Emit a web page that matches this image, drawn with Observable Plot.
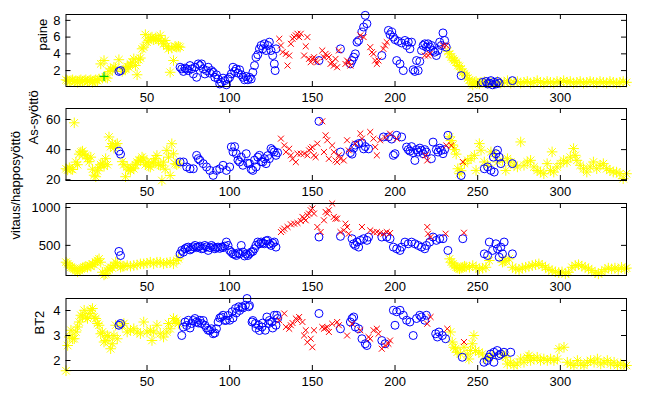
<!DOCTYPE html>
<html><head><meta charset="utf-8">
<script src="https://cdn.jsdelivr.net/npm/d3@7"></script>
<script src="https://cdn.jsdelivr.net/npm/@observablehq/plot@0.6"></script>
<style>
html,body{margin:0;padding:0;background:#fff;}
#chart{position:relative;width:666px;height:399px;overflow:hidden;background:#fff;}
#chart svg{position:absolute;left:0;}
</style></head><body><div id="chart"></div>
<script>
// ---------- labels & ticks ----------
const panelLabels = ["paine", "As-syöttö", "vitaus/happosyöttö", "BT2"];
const xTicks = [50, 100, 150, 200, 250, 300];
const paineTicks = [2, 4, 6, 8];
const asTicks = [20, 40, 60];
const vitausTicks = [500, 1000];
const bt2Ticks = [2, 3, 4];
const paineDomain = [0.1, 8.7];
const asDomain = [19.5, 67.3];
const vitausDomain = [102, 1053];
const bt2Domain = [1.6, 4.48];

// ---------- paine ----------
const paineYellow = [[1,0.9],[2,0.8],[3,0.7],[4,0.8],[5,0.9],[6,0.7],[7,0.8],[8,0.6],[9,0.8],[10,0.9],[11,0.7],[12,0.8],[13,0.9],[14,0.7],[15,0.8],[16,0.9],[17,0.6],[18,0.8],[19,0.9],[20,0.8],[21,1.0],[22,2.8],[23,1.1],[24,3.2],[25,1.2],[26,1.1],[27,1.9],[28,2.2],[29,2.0],[30,2.4],[31,2.3],[33,3.3],[35,1.9],[36,2.1],[37,2.2],[38,2.5],[39,2.4],[40,2.8],[41,3.0],[42,3.4],[43,2.6],[44,1.5],[45,3.3],[46,3.5],[47,4.6],[48,4.8],[49,6.3],[50,5.4],[51,5.6],[52,5.9],[53,6.0],[54,5.7],[55,5.9],[56,5.8],[57,5.6],[58,6.2],[59,5.5],[60,5.2],[61,5.6],[62,4.9],[63,4.6],[64,1.8],[65,4.7],[66,3.2],[67,4.9],[68,4.8],[69,4.9],[70,4.8],
[232,4.3],[233,4.0],[234,3.6],[235,3.4],[236,3.2],[237,3.0],[238,2.6],[239,2.5],[240,2.2],[241,1.8],[242,1.6],[243,1.4],[244,1.1],[245,0.9],[246,0.5],[247,0.3],[248,0.6],[249,0.7],[250,0.5],[251,0.4],[252,0.6],[254,0.7],[256,0.5],[258,0.6],[260,0.4],[262,0.7],[264,0.5],[266,0.6],[268,0.8],[270,0.5],[272,0.6],[274,0.7],[276,0.5],[278,0.6],[280,0.7],[282,0.5],[284,0.6],[286,0.8],[288,0.6],[290,0.5],[292,0.7],[294,0.6],[296,0.5],[298,0.7],[300,0.6],[302,0.8],[304,0.6],[306,0.7],[308,0.5],[310,0.6],[312,0.7],[314,0.5],[316,0.6],[318,0.7],[320,0.6],[322,0.5],[324,0.7],[326,0.6],[328,0.5],[330,0.7],[332,0.6],[334,0.5],[336,0.6],[338,0.7],[340,0.6]];
const paineBlue = [[33,1.9],[34,2.0],
[70,2.4],[71,2.2],[72,1.9],[73,2.3],[74,2.2],[75,2.0],[76,2.6],[77,2.2],[78,1.6],[79,2.4],[80,1.2],[81,2.8],[82,2.6],[83,2.8],[84,2.2],[85,1.6],[86,2.0],[87,2.4],[88,1.7],[89,2.0],[90,1.8],[91,1.2],[92,1.5],[93,1.0],[94,0.4],[95,0.6],[96,1.1],[97,0.8],[98,0.3],[99,1.0],[100,1.2],[101,1.6],[102,2.4],[103,1.9],[104,2.2],[105,1.7],[106,2.1],[107,1.5],[108,1.2],[109,0.9],[110,1.3],[111,0.9],[112,1.2],[113,1.0],[114,1.8],[115,2.6],[116,3.6],[117,3.9],[118,4.6],[119,5.0],[120,4.6],[121,5.2],[122,4.4],[123,5.0],[124,5.4],[125,4.4],[126,3.8],[127,2.8],[127.5,2.0],[128,4.6],
[154,3.2],[167,4.6],[173,2.8],[174,3.2],[175,3.6],[176,4.0],[177,5.4],[178,5.6],[180,6.6],[181,7.2],[182,8.6],[183,7.6],
[192,3.8],[196,6.8],[197,6.3],[198,6.6],[199,6.0],[200,5.7],[201,3.2],[202,5.5],[203,2.8],[204,5.3],[205,2.0],[206,5.6],[207,5.0],[208,5.4],[209,4.6],[210,5.4],[211,2.1],[212,1.9],[213,3.2],[214,2.0],[215,3.1],[216,4.4],[217,5.0],[218,5.2],[219,4.8],[220,5.2],[221,4.8],[222,5.0],[223,4.4],[224,4.2],[225,3.8],[226,4.4],[227,5.4],[228,5.0],[229,6.5],[230,5.6],[231,4.8],
[240,1.4],[253,0.6],[255,0.7],[256,0.4],[257,0.5],[258,0.8],[259,0.3],[260,0.6],[261,0.4],[262,0.7],[263,0.5],[271,0.8]];
const paineRed = [[130,5.8],[131,5.0],[132,4.2],[134,4.0],[135,2.6],[136,3.8],[137,5.2],[138,5.8],[139,6.0],[140,6.2],[141,6.4],[142,6.0],[143,6.4],[145,3.8],[146,4.9],[147,6.0],[148,3.4],[149,3.0],[150,3.4],[151,3.6],[152,3.2],[153,3.0],[156,4.4],[157,3.6],[158,4.0],[159,3.8],[160,3.6],[161,2.8],[162,3.0],[163,2.6],[164,3.4],[165,2.4],[166,4.4],[170,2.8],[171,3.2],[172,3.0],[173,2.6],[179,6.2],[181,6.0],[185,4.8],[186,4.2],[187,4.0],[188,3.2],[189,2.8],[190,3.2],[193,4.6],[194,5.0],[195,5.4],[218,3.8],[220,3.8],[221,4.0],[229,5.0],[231,5.0]];
const paineGreen = [[24,1.3]];

// ---------- As-syöttö ----------
const asYellow = [[1,27.3],[2,26.5],[3,28],[4,27],[5,26.8],[6,57.8],[7,31.7],[8,30],[9,37],[10,38.4],[11,39],[12,37],[13,36],[14,34],[15,32],[16,35],[17,27],[18,23],[19,22],[20,26],[21,28],[22,30],[23,31],[24,29],[25,34],[26,30],[27,48.4],[28,42],[29,44],[30,41],[31,43],[32,44],[35,32],[36,30],[37,22],[38,28.4],[39,27],[40,26.2],[41,28],[42,27.3],[43,30],[44,31.7],[45,33],[46,32.8],[47,35],[48,33.9],[49,30],[50,31.7],[51,29],[52,28.4],[53,31],[54,31.7],[55,34],[56,36.1],[57,30],[58,29.5],[59,19.5],[60,31.7],[61,27],[62,39.5],[63,35],[64,22.8],[65,43.9],[66,37.2],[67,30.6],[68,30],[69,31],
[233,48.5],[234,46],[235,43],[236,40],[237,37],[238,27.3],[239,24],[240,26],[242,30.7],[244,32.9],[246,34],[248,36.2],[249,26.2],[251,44],[252,39.6],[254,31.8],[256,29.6],[258,38.5],[260,37.3],[262,31.8],[265,32.9],[267,26.2],[268,34],[270,31.8],[272,29.6],[274,28.5],[276,45.1],[278,29.6],[280,31.8],[282,32.9],[284,28.5],[286,26.2],[288,25.1],[290,24],[292,30.7],[294,26.2],[295,38.5],[296,25.1],[298,28.5],[300,30.7],[302,32.9],[304,31.8],[306,35],[308,40.7],[309,36.2],[310,32.9],[312,29.6],[314,27.3],[316,25.1],[318,28.5],[320,31.8],[322,27.3],[324,29.6],[326,30.7],[328,27.3],[330,26.2],[332,25.1],[334,25.1],[336,24],[338,20.7],[340,24]];
const asBlue = [[33,39],[34,37],
[70,31.8],[72,31.8],[74,28.5],[76,27.3],[78,27.3],[80,36.2],[81,34],[82,32.9],[84,30.7],[86,28.5],[88,26.2],[90,22.9],[92,26.2],[94,27.3],[96,29.6],[98,26.2],[100,28.5],[101,41.8],[102,38.5],[103,42],[104,37.3],[105,33],[106,31.8],[107,35],[108,29.6],[110,37.3],[111,31],[112,30.7],[113,27],[114,26.2],[115,33],[116,28.5],[117,35],[118,36.2],[119,32],[120,31.8],[121,34],[122,30.7],[123,36],[124,34],[125,40.7],[126,39.6],[127,38.5],[128,36.2],[129,38],
[154,58.8],[167,38.4],[173,38],[174,37],[175,41],[176,43],[178,44],[180,44.5],[181,40.5],[182,42],[184,40.5],[193,48.4],[196,48.4],[198,47],[199,36.2],[200,37.3],[201,49.5],[204,48.4],[207,41.7],[208,40],[209,39],[210,42],[211,38],[212,32.8],[213,40],[214,38.4],[215,41],[216,39.5],[217,37.3],[218,40],[219,38.4],[222,34],[223,45],[225,40],[226,38.4],[227,41],[228,39.5],[229,37.3],[230,40],[232,49.5],[240,22.8],
[254,27.3],[256,28.5],[258,26.2],[260,25.1],[262,39.6],[263,35],[264,30.7],[259.5,35],[261,37.3],[271,30.7]];
const asRed = [[131,47.3],[133,42.8],[134,38.4],[136,40.6],[137,36.2],[138,33.9],[140,31.7],[141,37.3],[143,37.3],[145,37.3],[147,36.2],[148,39.5],[149,40.6],[150,41.7],[151,36.2],[152,35],[153,44],[156,58.8],[157,38.4],[158,49.5],[159,46.2],[160,33.9],[162,42.8],[163,38.4],[164,32.8],[165,31.7],[166,36.2],[167,33.9],[169,32.8],[171,46.2],[172,39.5],[176,44],[179,50.7],[180,47.3],[185,51.7],[187,47.3],[188,41.7],[189,36.2],[191,46.2],[194,48],[197,50.6],[201,47.3],[218.5,36.2],[219.5,32.8],[231,42.8],[234,42.8],[241,31.8]];

// ---------- vitaus/happosyöttö ----------
const vitausYellow = [[1,278],[2,256],[3,234],[4,211],[5,200],[6,189],[7,167],[8,150],[9,167],[10,189],[11,200],[12,211],[13,222],[14,211],[15,234],[16,222],[17,256],[18,245],[19,278],[20,300],[21,322],[22,278],[23,145],[24,110],[25,123],[26,167],[27,189],[28,211],[29,200],[30,234],[31,278],[32,256],[34,211],[35,222],[36,225],[38,234],[40,225],[42,234],[44,242],[46,256],[48,256],[50,264],[52,278],[54,256],[56,278],[58,278],[60,256],[62,269],[64,278],[66,256],[68,300],[69,322],
[233,322],[234,278],[235,256],[236,230],[237,211],[238,200],[239,189],[240,200],[241,211],[242,225],[243,215],[245,211],[247,234],[249,211],[251,189],[253,198],[255,211],[257,300],[265,278],[266,290],[267,300],[269,322],[271,211],[273,189],[275,180],[277,200],[279,211],[281,222],[283,234],[285,245],[287,256],[289,234],[291,211],[293,180],[295,167],[297,150],[299,140],[301,150],[303,123],[305,145],[307,211],[309,234],[311,245],[313,225],[315,211],[317,189],[319,167],[321,140],[323,123],[325,150],[327,180],[329,200],[331,189],[333,200],[335,180],[337,211],[339,189],[340,200]];
const vitausBlue = [[33,420],[34,366],
[70,388],[71,433],[72,410],[73,455],[74,470],[75,477],[76,440],[77,455],[78,480],[79,499],[80,470],[81,477],[82,490],[83,455],[84,460],[85,499],[86,480],[87,433],[88,470],[89,499],[90,480],[91,455],[92,470],[93,477],[94,460],[95,477],[96,470],[97,490],[98,544],[99,499],[100,433],[101,410],[102,388],[103,380],[104,366],[105,400],[106,388],[107,499],[108,411],[109,360],[110,388],[111,366],[112,390],[113,411],[114,420],[115,455],[116,500],[117,544],[118,520],[119,544],[120,530],[121,521],[122,560],[123,566],[124,520],[125,499],[126,530],[127,544],[128,477],
[154,610],[167,619],[174,588],[175,521],[176,499],[177,544],[178,477],[179,566],[181,588],[183,566],[184,610],[192,610],[195,610],[197,588],[199,477],[201,455],[203,433],[204,477],[206,543],[208,521],[210,543],[212,521],[214,499],[216,477],[218,455],[219,499],[221,543],[223,610],[225,566],[227,588],[229,588],[232,433],[241,588],
[254,388],[256,366],[257,544],[259,433],[261,521],[262,455],[263,344],[264,477],[265,388],[266,544],[271,388]];
const vitausRed = [[131,676],[132,698],[133,721],[135,743],[137,778],[139,787],[141,796],[143,822],[144,876],[145,853],[146,831],[147,898],[148,920],[149,964],[150,986],[151,920],[153,743],[155,676],[157,831],[158,942],[159,920],[160,964],[162,1053],[163,876],[164,853],[165,853],[167,676],[169,698],[170,787],[171,743],[172,654],[180,743],[185,698],[187,676],[189,676],[191,663],[193,654],[195,676],[197,663],[219.5,743],[220,654],[221.5,610],[230.6,654],[241.7,667]];

// ---------- BT2 ----------
const bt2Yellow = [[1,1.59],[2,2.6],[3,2.94],[4,3.21],[5,2.87],[6,2.87],[7,3.14],[8,3.34],[9,3.54],[10,3.81],[11,3.74],[12,4.01],[13,3.74],[14,3.68],[15,3.88],[16,4.01],[17,4.08],[18,3.74],[19,3.68],[20,3.48],[21,3.41],[22,3.07],[23,3.14],[24,2.74],[25,2.8],[26,3.0],[27,2.94],[28,2.47],[29,2.67],[30,3.0],[31,3.41],[32,2.87],[35,3.41],[36,3.48],[38,3.14],[40,3.21],[42,3.27],[44,3.14],[46,3.07],[48,3.54],[50,3.14],[52,3.21],[53,2.8],[54,3.14],[56,3.41],[58,3.07],[60,2.94],[62,3.14],[63,3.48],[64,3.27],[66,3.68],[67,3.54],[68,3.61],[69,3.48],
[233.6,3.14],[234.6,2.74],[235.6,2.53],[236.6,2.47],[237.6,2.33],[239.6,2.26],[241.7,2.53],[243.7,2.26],[244.7,2.06],[245.7,2.4],[246.7,2.67],[247.7,3.0],[248.7,2.4],[250.7,2.33],[252.8,2.26],[254.8,2.06],[256.8,2.13],[258.8,2.2],[264.9,2.26],[266.9,2.13],[267.9,1.86],[269.9,1.93],[271.9,1.8],[273.9,1.86],[276,2.06],[278,1.93],[280,2.13],[281,2.2],[282,2.0],[284,2.06],[286,2.13],[288,2.0],[290,2.06],[292.1,2.0],[294.1,2.06],[296.1,2.0],[298.2,2.06],[299.2,2.47],[302.2,2.53],[304.2,1.93],[306.2,1.86],[308.2,1.8],[310.3,2.0],[312.3,1.86],[314.3,1.8],[316.3,1.93],[318.3,2.0],[320.4,1.93],[322.4,2.06],[324.4,1.86],[326.4,1.93],[328.4,2.0],[330.4,1.86],[332.5,1.93],[334.5,1.8],[336.5,1.86],[338.5,1.8],[340,1.8]];
const bt2Blue = [[33,3.41],[34,3.48],
[71,3.0],[72,3.34],[73,3.54],[74,3.4],[75,3.61],[76,3.3],[77,3.48],[78,3.6],[79,3.68],[80,3.54],[81,3.5],[82,3.61],[83,3.48],[84,3.6],[85,3.41],[86,3.3],[87,3.21],[88,3.2],[89,3.27],[90,3.07],[91,3.1],[92,3.27],[93,3.54],[94,3.7],[95,3.74],[96,3.81],[97,3.6],[98,3.61],[99,3.8],[100,3.61],[101.5,3.95],[102,3.7],[103.5,4.08],[104,3.9],[105.5,4.15],[106,4.0],[107.5,4.15],[108,4.1],[109.5,4.21],[110.5,4.48],[111.5,4.15],[112,4.2],[113.5,3.54],[114,3.6],[115.5,3.48],[116,3.3],[117.5,3.41],[118,3.2],[119.5,3.34],[120,3.5],[121.5,3.21],[122.5,3.74],[123.5,3.48],[124,3.6],[125.5,3.54],[126,3.3],[127,3.81],[128,3.41],[128.5,3.81],[129,3.68],
[154,3.88],[167,3.27],[173,3.54],[174,3.68],[175,3.74],[176,3.34],[178,3.27],[180,2.87],[182,2.67],[183,2.6],[192,2.8],[194,2.67],[199,4.01],[200,3.41],[201,3.95],[203,4.01],[205,3.81],[207,3.61],[209,3.54],[211,3.0],[213,3.68],[215,3.81],[216,3.74],[218,3.61],[219,3.81],[224.6,3.07],[225.6,2.94],[226.6,3.14],[228.6,3.0],[230.6,2.87],[240.7,2.13],
[253.8,1.93],[255.8,2.0],[256.8,2.13],[257.8,2.26],[259.8,2.33],[261.8,2.4],[262.9,2.2],[263.9,2.26],[265.9,2.33],[259.8,1.93],[270,2.33]];
const bt2Red = [[130,3.61],[133,3.88],[134,3.34],[136,3.27],[137,3.41],[138,3.5],[140,3.68],[141,3.6],[142,3.74],[144,3.54],[145,3.0],[146,3.21],[147,2.73],[149,2.87],[150,2.53],[151,3.21],[156,3.34],[157,3.27],[158,3.3],[159,3.34],[160,3.14],[162,3.47],[165,3.54],[166,3.41],[171,3.0],[174,3.47],[179,3.21],[184,2.94],[185,2.87],[187,3.21],[189,3.27],[190,3.07],[192,2.47],[194,2.6],[196,2.67],[197,2.8],[219.5,3.47],[221.5,3.74],[231.6,3.27],[241.7,2.74]];

// ---------- build ----------
const panels = [
  {label: panelLabels[0], domain: paineDomain, ticks: paineTicks, yellow: paineYellow, blue: paineBlue, red: paineRed, green: paineGreen, top: 14, labelDx: -23.5},
  {label: panelLabels[1], domain: asDomain, ticks: asTicks, yellow: asYellow, blue: asBlue, red: asRed, green: [], top: 108, labelDx: -32.5},
  {label: panelLabels[2], domain: vitausDomain, ticks: vitausTicks, yellow: vitausYellow, blue: vitausBlue, red: vitausRed, green: [], top: 203, labelDx: -50.5},
  {label: panelLabels[3], domain: bt2Domain, ticks: bt2Ticks, yellow: bt2Yellow, blue: bt2Blue, red: bt2Red, green: [], top: 298, labelDx: -26.5}
];
const FONT = '"Liberation Sans", Arial, Helvetica, sans-serif';
const FS = 13;
const W = 666, ML = 65.5, MR = 40, MT = 14, MB = 26, PH = 72;
const PW = W - ML - MR;
const X = d => d[0], Y = d => d[1];
const chart = document.getElementById("chart");
for (const p of panels) {
  const svg = Plot.plot({
    width: W, height: MT + PH + MB,
    marginLeft: ML, marginRight: MR, marginTop: MT, marginBottom: MB,
    style: {background: "transparent", overflow: "visible", fontFamily: FONT, fontSize: FS + "px", color: "black"},
    x: {domain: [1, 340]},
    y: {domain: p.domain},
    marks: [
      Plot.dot(p.yellow, {x: X, y: Y, symbol: "plus", r: 3.5, stroke: "#ffff00", fill: "none", strokeWidth: 1}),
      Plot.dot(p.yellow, {x: X, y: Y, symbol: "times", r: 3.5, stroke: "#ffff00", fill: "none", strokeWidth: 1}),
      Plot.dot(p.blue, {x: X, y: Y, symbol: "circle", r: 4, stroke: "#0000ff", fill: "none", strokeWidth: 1}),
      Plot.dot(p.red, {x: X, y: Y, symbol: "times", r: 2.8, stroke: "#ff0000", fill: "none", strokeWidth: 1}),
      Plot.dot(p.green, {x: X, y: Y, symbol: "plus", r: 3, stroke: "#00cc00", fill: "none", strokeWidth: 1.2}),
      Plot.frame({stroke: "black"}),
      Plot.ruleX(xTicks, {x: d => d, stroke: "black", insetTop: PH - 5}),
      Plot.ruleX(xTicks, {x: d => d, stroke: "black", insetBottom: PH - 5}),
      Plot.ruleY(p.ticks, {y: d => d, stroke: "black", insetRight: PW - 5}),
      Plot.ruleY(p.ticks, {y: d => d, stroke: "black", insetLeft: PW - 5}),
      Plot.axisX(xTicks, {tickSize: 0, tickPadding: 6.5, label: null, tickFormat: d => String(d), fontSize: FS}),
      Plot.axisY(p.ticks, {tickSize: 0, tickPadding: 5.5, label: null, tickFormat: d => String(d), fontSize: FS}),
      Plot.text([p.label], {frameAnchor: "left", rotate: -90, dx: p.labelDx, text: d => d, fontSize: FS, fill: "black"})
    ]
  });
  svg.style.top = (p.top - MT) + "px";
  chart.appendChild(svg);
}
</script></body></html>
